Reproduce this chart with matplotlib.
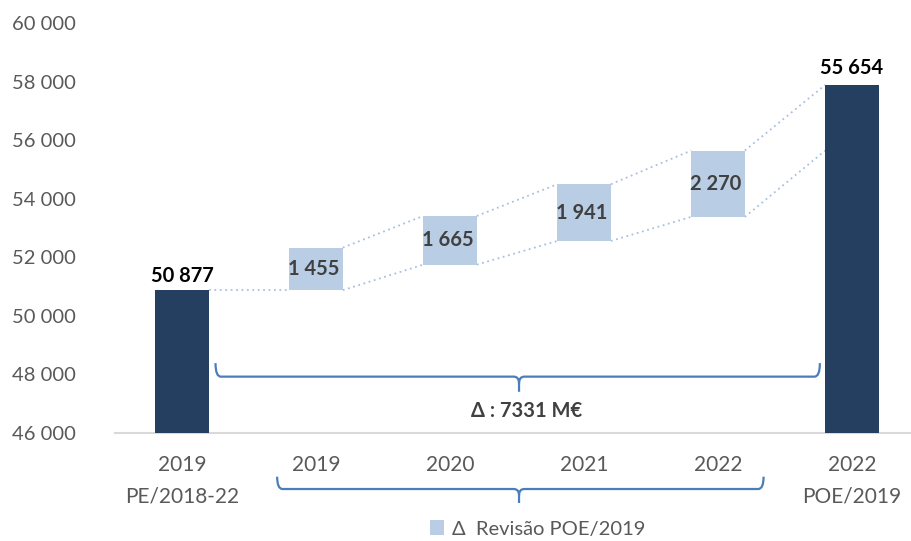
import numpy as np
import matplotlib.pyplot as plt
from matplotlib.path import Path
from matplotlib.patches import PathPatch
import matplotlib.transforms as mtransforms

plt.rcParams['font.family'] = ['Lato', 'DejaVu Sans']

categories = ['2019\nPE/2018-22', '2019', '2020', '2021', '2022', '2022\nPOE/2019']
start_value = 50877
end_value = 57900
end_label = 55654
revisions = [1455, 1665, 1941, 2270]
rev_bottoms = [50877, 51750, 52560, 53384]
delta_text = 'Δ : 7331 M€'
legend_text = 'Δ  Revisão POE/2019'

dark = '#243F60'
light = '#B9CDE5'
brace_col = '#4A7EBB'
gray = '#595959'


def fmt(v):
    return f'{v:,}'.replace(',', ' ')


fig = plt.figure(figsize=(9.11, 5.41), dpi=100)
ax = fig.add_axes([115 / 911, (541 - 432.7) / 541, (911 - 115) / 911, (432.7 - 23.5) / 541])

x = np.arange(len(categories))
w = 0.4
rev_x = x[1:5]
rev_tops = [b + r for b, r in zip(rev_bottoms, revisions)]

ax.bar(x[0], start_value - 46000, bottom=46000, width=w, color=dark, zorder=3)
ax.bar(x[5], end_value - 46000, bottom=46000, width=w, color=dark, zorder=3)
rb = ax.bar(rev_x, revisions, bottom=rev_bottoms, width=w, color=light, zorder=3)

# linhas pontilhadas entre as barras
dot = dict(color='#A8C0E0', lw=1.3, ls=(0, (1, 2)), zorder=2)
lows = [start_value] + rev_bottoms + [rev_tops[-1]]
for i in range(5):
    ax.plot([x[i] + w / 2, x[i + 1] - w / 2], [lows[i] if i == 0 else rev_bottoms[i - 1], lows[i + 1]], **dot)
highs = rev_tops + [end_value]
for i in range(4):
    ax.plot([rev_x[i] + w / 2, rev_x[i] + 1 - w / 2], [highs[i], highs[i + 1]], **dot)

# rótulos
ax.annotate(fmt(start_value), (x[0], start_value), xytext=(0, 3), textcoords='offset points',
            ha='center', va='bottom', fontsize=14.5, fontweight='bold', color='black')
ax.annotate(fmt(end_label), (x[5], end_value), xytext=(0, 5), textcoords='offset points',
            ha='center', va='bottom', fontsize=14.5, fontweight='bold', color='black')
for xi, b, r in zip(rev_x, rev_bottoms, revisions):
    ax.text(xi - 0.02, b + r / 2, fmt(r), ha='center', va='center', fontsize=14.5,
            fontweight='bold', color='#404040', zorder=4)

ax.set_xlim(-0.5, 5.44)
ax.set_ylim(46000, 60000)
ax.set_yticks(range(46000, 60001, 2000))
ax.set_yticklabels([fmt(v) for v in range(46000, 60001, 2000)])
ax.set_xticks(x)
ax.set_xticklabels(categories, linespacing=1.75)
ax.tick_params(axis='y', length=0, pad=28, labelsize=14.5, labelcolor=gray)
ax.tick_params(axis='x', length=0, pad=16, labelsize=15, labelcolor=gray)
for s in ['top', 'right', 'left']:
    ax.spines[s].set_visible(False)
ax.spines['bottom'].set_color('#D9D9D9')
ax.spines['bottom'].set_linewidth(1.5)


def brace(x0, x1, xc, ytop, ymid, ytip):
    d = 0.04
    dy = (ymid - ytip) * 0.45
    verts = [(x0, ytop), (x0, ymid), (x0 + d, ymid), (xc - d, ymid), (xc, ymid), (xc, ymid - dy),
             (xc, ytip),
             (xc, ymid - dy), (xc, ymid), (xc + d, ymid), (x1 - d, ymid), (x1, ymid), (x1, ytop)]
    codes = [Path.MOVETO, Path.CURVE3, Path.CURVE3, Path.LINETO, Path.CURVE3, Path.CURVE3,
             Path.LINETO,
             Path.MOVETO, Path.CURVE3, Path.CURVE3, Path.LINETO, Path.CURVE3, Path.CURVE3]
    trans = mtransforms.blended_transform_factory(ax.transData, ax.transAxes)
    ax.add_patch(PathPatch(Path(verts, codes), fill=False, ec=brace_col, lw=1.6,
                           transform=trans, clip_on=False, zorder=4))


brace(0.25, 4.76, 2.515, 0.170, 0.137, 0.100)
brace(0.71, 4.34, 2.515, -0.1075, -0.1376, -0.1718)

ax.text(2.57, 0.053, delta_text, transform=mtransforms.blended_transform_factory(ax.transData, ax.transAxes),
        ha='center', va='center', fontsize=14.5, fontweight='bold', color='#404040')

fig.legend([rb], [legend_text], loc='center', bbox_to_anchor=(538 / 911, 1 - 529 / 541),
           frameon=False, fontsize=14.5, labelcolor=gray, handlelength=0.7, handleheight=0.7,
           handletextpad=0.4)

fig.savefig('out.png', dpi=100)
